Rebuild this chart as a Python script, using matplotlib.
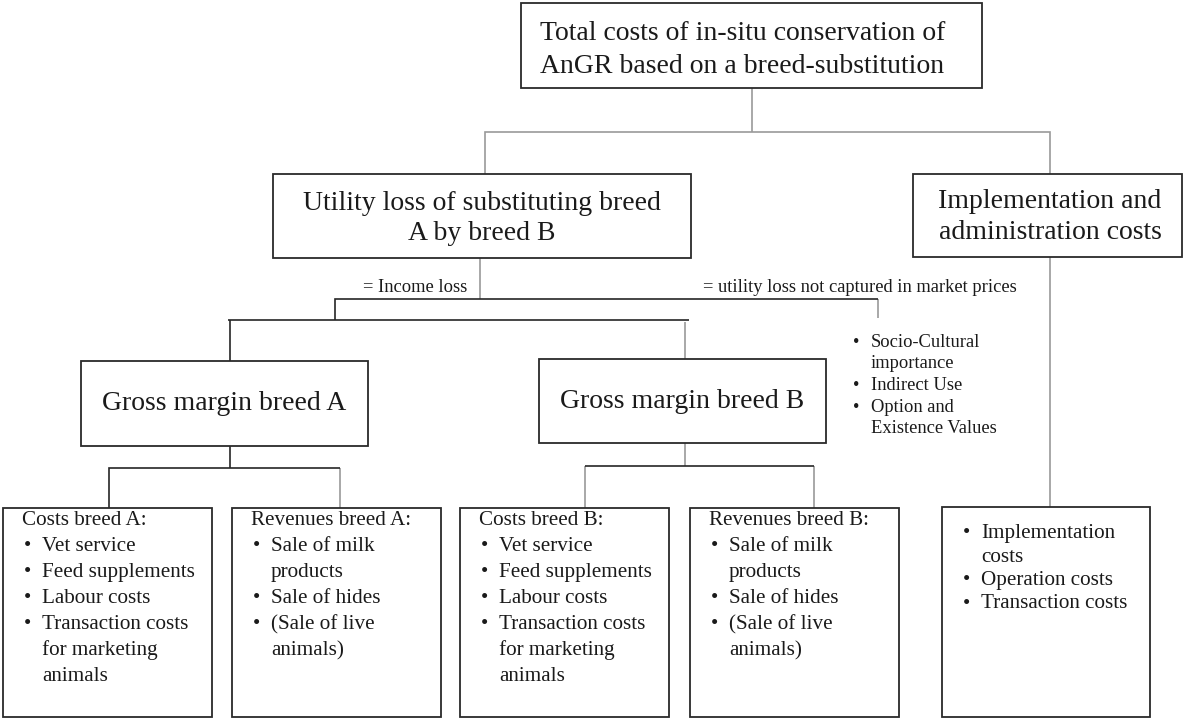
import matplotlib
matplotlib.use("Agg")
import matplotlib.pyplot as plt
from matplotlib.patches import Rectangle

# ---- text content ----
top_lines = ["Total costs of in-situ conservation of", "AnGR based on a breed-substitution"]
utility_lines = ["Utility loss of substituting breed", "A by breed B"]
impl_lines = ["Implementation and", "administration costs"]
gross_a = "Gross margin breed A"
gross_b = "Gross margin breed B"
label_income = "= Income loss"
label_utility = "= utility loss not captured in market prices"
nonmarket_items = [["Socio-Cultural", "importance"], ["Indirect Use"], ["Option and", "Existence Values"]]
costs_a_head = "Costs breed A:"
costs_b_head = "Costs breed B:"
costs_items = [["Vet service"], ["Feed supplements"], ["Labour costs"], ["Transaction costs", "for marketing", "animals"]]
rev_a_head = "Revenues breed A:"
rev_b_head = "Revenues breed B:"
rev_items = [["Sale of milk", "products"], ["Sale of hides"], ["(Sale of live", "animals)"]]
impl_items = [["Implementation", "costs"], ["Operation costs"], ["Transaction costs"]]

FONT = ["Liberation Serif", "DejaVu Serif"]
TXT = "#1a1a1a"
EDGE = "#2a2a2a"
BLACK_LINE = "#262626"
GRAY_LINE = "#9a9a9a"

fig = plt.figure(figsize=(11.84, 7.18), dpi=100)
ax = fig.add_axes([0, 0, 1, 1])
ax.set_xlim(0, 1184)
ax.set_ylim(718, 0)
ax.axis("off")


def box(x0, y0, x1, y1):
    ax.add_patch(Rectangle((x0, y0), x1 - x0, y1 - y0, fill=False,
                           edgecolor=EDGE, linewidth=1.3, zorder=3))


def seg(pts, color, lw=1.2):
    xs = [p[0] for p in pts]
    ys = [p[1] for p in pts]
    ax.plot(xs, ys, color=color, linewidth=lw, solid_capstyle="butt",
            solid_joinstyle="miter", zorder=2)


def txt(x, y, s, size, ha="left"):
    ax.text(x, y, s, fontsize=size, family=FONT, color=TXT, ha=ha, va="baseline", zorder=4)


def bullets(x_bullet, x_text, y0, step, items, size):
    y = y0
    for item in items:
        txt(x_bullet, y, "\u2022", size)
        for line in item:
            txt(x_text, y, line, size)
            y += step
    return y


BIG = 20
MID = 15.2
SMALL = 13.3

# ---- boxes ----
layout = {
    "top": (521, 3, 982, 88),
    "util": (273, 174, 691, 258),
    "impl": (913, 174, 1182, 257),
    "ga": (81, 361, 368, 446),
    "gb": (539, 359, 826, 443),
    "ca": (3, 508, 212, 717),
    "ra": (232, 508, 441, 717),
    "cb": (460, 508, 669, 717),
    "rb": (690, 508, 899, 717),
    "ib": (942, 507, 1150, 717),
}
for k, b in layout.items():
    box(*b)

# ---- connectors ----
# gray
seg([(752, 88), (752, 132)], GRAY_LINE)
seg([(485, 174), (485, 132), (1050, 132), (1050, 174)], GRAY_LINE)
seg([(480, 258), (480, 299)], GRAY_LINE)
seg([(878, 299), (878, 318)], GRAY_LINE)
seg([(685, 322), (685, 359)], GRAY_LINE)
seg([(340, 468), (340, 508)], GRAY_LINE)
seg([(685, 443), (685, 466)], GRAY_LINE)
seg([(585, 466), (585, 508)], GRAY_LINE)
seg([(814, 466), (814, 508)], GRAY_LINE)
seg([(1050, 257), (1050, 507)], GRAY_LINE)
# black
seg([(335, 320), (335, 299), (878, 299)], BLACK_LINE)
seg([(228, 320), (689, 320)], BLACK_LINE)
seg([(230, 320), (230, 361)], BLACK_LINE)
seg([(230, 446), (230, 468)], BLACK_LINE)
seg([(109, 508), (109, 468), (340, 468)], BLACK_LINE)
seg([(585, 466), (814, 466)], BLACK_LINE)

# ---- box texts ----
txt(540, 40, top_lines[0], BIG)
txt(540, 73, top_lines[1], BIG)
txt(482, 210, utility_lines[0], BIG, ha="center")
txt(482, 240, utility_lines[1], BIG, ha="center")
txt(1050, 208, impl_lines[0], BIG, ha="center")
txt(1050, 239, impl_lines[1], BIG, ha="center")
txt(224.5, 410, gross_a, BIG, ha="center")
txt(682.5, 408, gross_b, BIG, ha="center")

# ---- labels ----
txt(467, 292, label_income, SMALL, ha="right")
txt(703, 292, label_utility, SMALL)

# non-market bullets
bullets(853, 871, 347, 21.5, nonmarket_items, SMALL)

# ---- bottom boxes ----
for (bx, head, items) in [(3, costs_a_head, costs_items), (232, rev_a_head, rev_items),
                          (460, costs_b_head, costs_items), (690, rev_b_head, rev_items)]:
    txt(bx + 19, 525, head, MID)
    bullets(bx + 21, bx + 39, 551, 26, items, MID)

bullets(963, 981, 538, 23.5, impl_items, MID)

fig.savefig("out.png", dpi=100, facecolor="white")
